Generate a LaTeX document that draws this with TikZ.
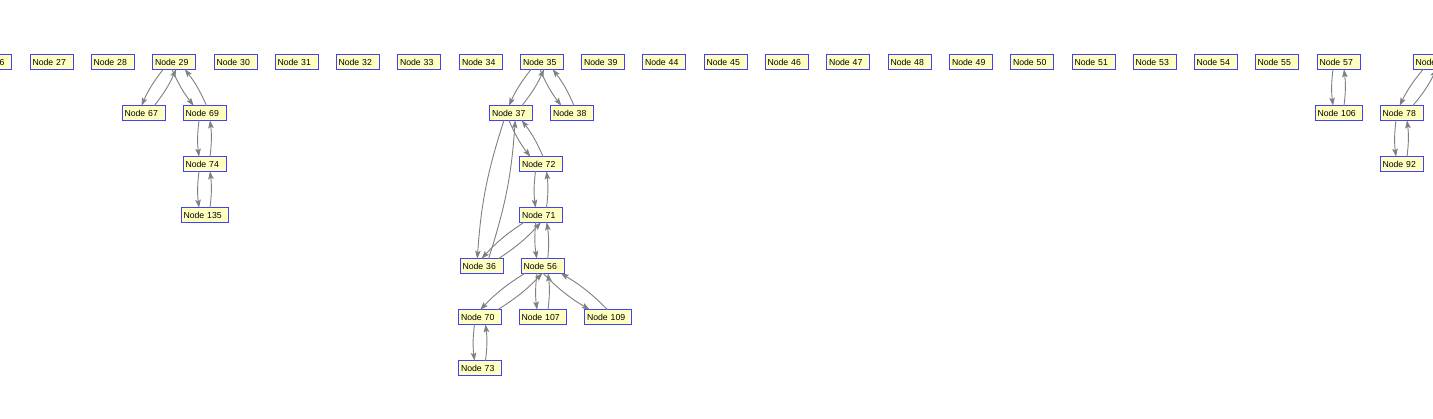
\documentclass[tikz,border=0pt]{standalone}
\usepackage{fontspec}
\setmainfont{Liberation Sans}
\usetikzlibrary{calc,arrows.meta}
\definecolor{nodefill}{RGB}{255,255,192}
\definecolor{nodeline}{RGB}{64,64,255}
\definecolor{edgegray}{RGB}{128,128,128}
\tikzset{
  box/.style={draw=nodeline, fill=nodefill, line width=1pt, inner xsep=2.5pt, inner ysep=0pt,
    text width=38pt, align=left, minimum height=14.5pt, font=\fontsize{8.7}{10}\selectfont},
  boxw/.style={box, text width=42pt},
  edge/.style={draw=edgegray, line width=0.9pt, -{Stealth[length=8pt,width=5.5pt,inset=1.5pt]}}
}
\newcommand\bipair[2]{%
  \path let \p1=(#1.center), \p2=(#2.center),
    \n1={\x2-\x1}, \n2={\y1-\y2}, \n3={veclen(\x2-\x1,\y2-\y1)},
    \n4={7.25*\n1/\n2}, \n5={5.5*\n3/\n2} in
    coordinate (#1-#2-a) at (\x1+\n4-\n5,\y1-7.25pt)
    coordinate (#1-#2-b) at (\x2-\n4-\n5,\y2+7.25pt)
    coordinate (#1-#2-c) at (\x2-\n4+\n5,\y2+7.25pt)
    coordinate (#1-#2-d) at (\x1+\n4+\n5,\y1-7.25pt);
  \draw[edge] (#1-#2-a) to[bend right=7] (#1-#2-b);
  \draw[edge] (#1-#2-c) to[bend right=7] (#1-#2-d);
}
\begin{document}
\begin{tikzpicture}[x=1pt,y=1pt]
\useasboundingbox[fill=white] (0,0) rectangle (1433,-419);
\clip (0,0) rectangle (1433,-419);
% top row
\node[box] (n26) at (-10,-62) {Node 26};
\node[box] (n27) at (51.5,-62) {Node 27};
\node[box] (n28) at (112.5,-62) {Node 28};
\node[box] (n29) at (174,-62) {Node 29};
\node[box] (n30) at (235.5,-62) {Node 30};
\node[box] (n31) at (296.5,-62) {Node 31};
\node[box] (n32) at (357.5,-62) {Node 32};
\node[box] (n33) at (419,-62) {Node 33};
\node[box] (n34) at (481,-62) {Node 34};
\node[box] (n35) at (542,-62) {Node 35};
\node[box] (n39) at (603,-62) {Node 39};
\node[box] (n44) at (664,-62) {Node 44};
\node[box] (n45) at (725.5,-62) {Node 45};
\node[box] (n46) at (786.5,-62) {Node 46};
\node[box] (n47) at (848,-62) {Node 47};
\node[box] (n48) at (909.5,-62) {Node 48};
\node[box] (n49) at (971,-62) {Node 49};
\node[box] (n50) at (1032,-62) {Node 50};
\node[box] (n51) at (1093.5,-62) {Node 51};
\node[box] (n53) at (1154.5,-62) {Node 53};
\node[box] (n54) at (1215.5,-62) {Node 54};
\node[box] (n55) at (1276.5,-62) {Node 55};
\node[box] (n57) at (1338.5,-62) {Node 57};
\node[box] (n58) at (1434.5,-62) {Node 58};
% row 2
\node[box] (n67) at (143.5,-113) {Node 67};
\node[box] (n69) at (204.5,-113) {Node 69};
\node[box] (n37) at (511,-113) {Node 37};
\node[box] (n38) at (572,-113) {Node 38};
\node[boxw] (n106) at (1338.5,-113) {Node 106};
\node[box] (n78) at (1401.5,-113) {Node 78};
% row 3
\node[box] (n74) at (204.5,-164) {Node 74};
\node[box] (n72) at (541,-164) {Node 72};
\node[box] (n92) at (1401.5,-164) {Node 92};
% row 4
\node[boxw] (n135) at (204.5,-215) {Node 135};
\node[box] (n71) at (541,-215) {Node 71};
% row 5
\node[box] (n36) at (481.5,-266) {Node 36};
\node[box] (n56) at (542.5,-266) {Node 56};
% row 6
\node[box] (n70) at (480,-317) {Node 70};
\node[boxw] (n107) at (542.5,-317) {Node 107};
\node[boxw] (n109) at (608,-317) {Node 109};
% row 7
\node[box] (n73) at (480,-368) {Node 73};
% edges
\bipair{n29}{n67}
\bipair{n29}{n69}
\bipair{n69}{n74}
\bipair{n74}{n135}
\bipair{n35}{n37}
\bipair{n35}{n38}
\bipair{n37}{n72}
\bipair{n37}{n36}
\bipair{n72}{n71}
\bipair{n71}{n36}
\bipair{n71}{n56}
\bipair{n56}{n70}
\bipair{n56}{n107}
\bipair{n56}{n109}
\bipair{n70}{n73}
\bipair{n57}{n106}
\bipair{n58}{n78}
\bipair{n78}{n92}
\end{tikzpicture}
\end{document}
